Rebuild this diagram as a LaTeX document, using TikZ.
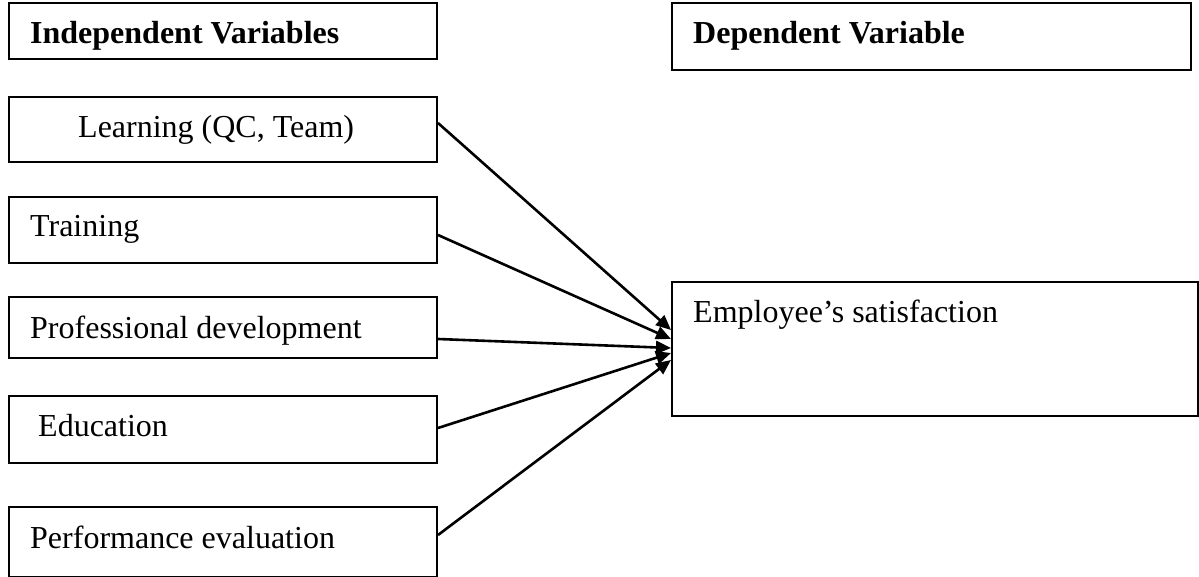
\documentclass[tikz,border=0pt]{standalone}
\usepackage{fontspec}
\setmainfont{Liberation Serif}
\usetikzlibrary{arrows.meta}
\begin{document}
\begin{tikzpicture}[x=1pt,y=-1pt,
  box/.style={draw=black, line width=2pt, rectangle, inner sep=0pt, minimum width=428.5pt},
  lbl/.style={anchor=base west, inner sep=0pt, font=\fontsize{32}{38}\selectfont},
  blbl/.style={lbl, font=\fontsize{32}{38}\selectfont\bfseries},
  arr/.style={line width=2.6pt, -{Triangle[length=15pt,width=13pt]}}]
\useasboundingbox (0,0) rectangle (1199,577);
% boxes
\node[box, minimum height=56pt] (indep) at (222.75,31) {};
\node[box, minimum width=519pt, minimum height=67pt] (dep) at (931.5,36.5) {};
\node[box, minimum height=65pt] (learn) at (222.75,129.5) {};
\node[box, minimum height=66pt] (train) at (222.75,230) {};
\node[box, minimum height=61pt] (prof) at (222.75,327.5) {};
\node[box, minimum height=67pt] (edu) at (222.75,429.5) {};
\node[box, minimum height=70pt] (perf) at (222.75,542) {};
\node[box, minimum width=526pt, minimum height=134pt] (emp) at (935,349) {};
% texts
\node[blbl] (tindep) at (30,44) {Independent Variables};
\node[blbl] (tdep) at (693,44) {Dependent Variable};
\node[lbl] (tlearn) at (78,138) {Learning (QC, Team)};
\node[lbl] (ttrain) at (30,237) {Training};
\node[lbl] (tprof) at (30,338) {Professional development};
\node[lbl] (tedu) at (38,436) {Education};
\node[lbl] (tperf) at (30,548) {Performance evaluation};
\node[lbl] (temp) at (693,323) {Employee’s satisfaction};
% connectors
\draw[arr] ([yshift=6.5pt]learn.east) -- ([yshift=19pt]emp.west);
\draw[arr] ([yshift=-5pt]train.east) -- ([yshift=10pt]emp.west);
\draw[arr] ([yshift=-11.5pt]prof.east) -- ([yshift=1pt]emp.west);
\draw[arr] ([yshift=1.5pt]edu.east) -- ([yshift=-4pt]emp.west);
\draw[arr] ([yshift=7pt]perf.east) -- ([yshift=-11pt]emp.west);
\end{tikzpicture}
\end{document}
